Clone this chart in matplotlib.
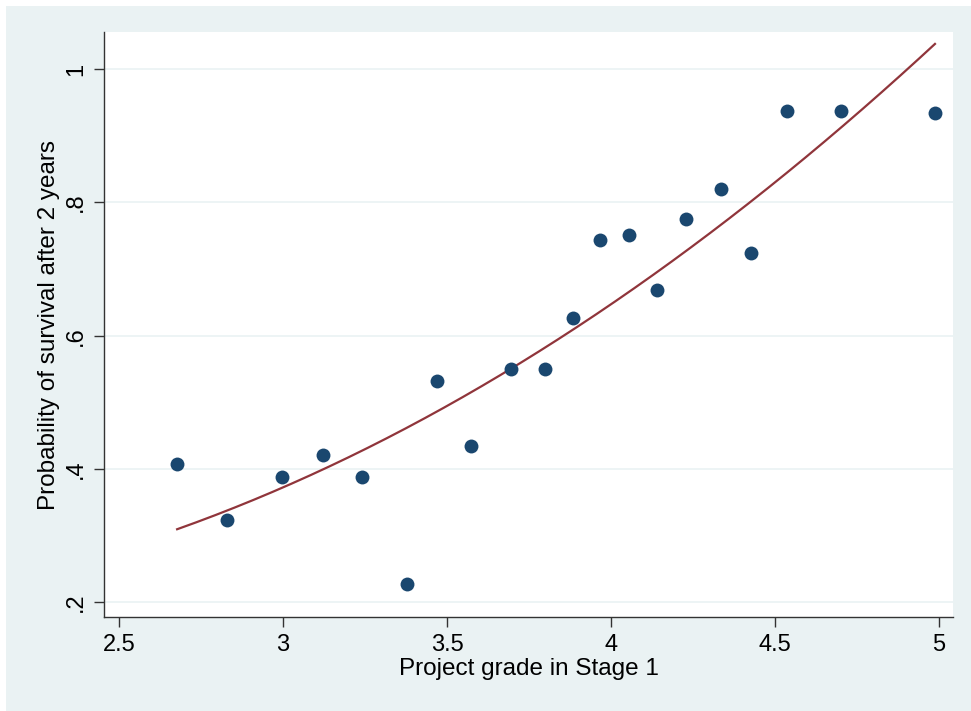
import numpy as np
import matplotlib.pyplot as plt
from matplotlib.patches import Rectangle

# project grade vs. survival probability
grade = [2.677, 2.829, 2.997, 3.122, 3.241, 3.378, 3.470, 3.573, 3.695, 3.799,
         3.884, 3.966, 4.055, 4.140, 4.229, 4.335, 4.427, 4.537, 4.701, 4.988]
survival = [0.407, 0.323, 0.388, 0.421, 0.388, 0.227, 0.532, 0.434, 0.550, 0.550,
            0.626, 0.743, 0.751, 0.668, 0.775, 0.820, 0.724, 0.938, 0.937, 0.934]

xticks = [2.5, 3, 3.5, 4, 4.5, 5]
xticklabels = ['2.5', '3', '3.5', '4', '4.5', '5']
yticks = [0.2, 0.4, 0.6, 0.8, 1.0]
yticklabels = ['.2', '.4', '.6', '.8', '1']

plt.rcParams['font.family'] = ['Liberation Sans', 'DejaVu Sans']

bg = '#eaf2f3'
fig = plt.figure(figsize=(9.71, 7.11), dpi=100, facecolor='white')
fig.patches.append(Rectangle((6 / 971, 0), 1, 1 - 6 / 711, transform=fig.transFigure,
                             facecolor=bg, edgecolor='none', zorder=-1))
ax = fig.add_axes([104 / 971, 1 - 617 / 711, (953 - 104) / 971, (617 - 32) / 711])
ax.set_facecolor('white')

# quadratic fit like Stata's qfit
coef = np.polyfit(grade, survival, 2)
xs = np.linspace(min(grade), max(grade), 200)
ax.plot(xs, np.polyval(coef, xs), color='#90353b', lw=1.6, zorder=2)
ax.plot(grade, survival, 'o', color='#1a476f', ms=10, mec='none', zorder=3)

ax.set_xlim(2.454, 5.043)
ax.set_ylim(0.1775, 1.056)
ax.set_xticks(xticks)
ax.set_xticklabels(xticklabels)
ax.set_yticks(yticks)
ax.set_yticklabels(yticklabels, rotation=90, va='center')
ax.grid(axis='y', color=bg, lw=1.2)
ax.set_axisbelow(True)

for s in ['top', 'right']:
    ax.spines[s].set_visible(False)
for s in ['left', 'bottom']:
    ax.spines[s].set_color('#333333')
    ax.spines[s].set_linewidth(1.0)
ax.tick_params(length=7, width=1.0, color='#333333', labelsize=17, pad=5)

ax.set_xlabel('Project grade in Stage 1', fontsize=17.5, labelpad=2)
ax.set_ylabel('Probability of survival after 2 years', fontsize=17.5, labelpad=4)

fig.savefig('out.png', dpi=100, facecolor=fig.get_facecolor())
